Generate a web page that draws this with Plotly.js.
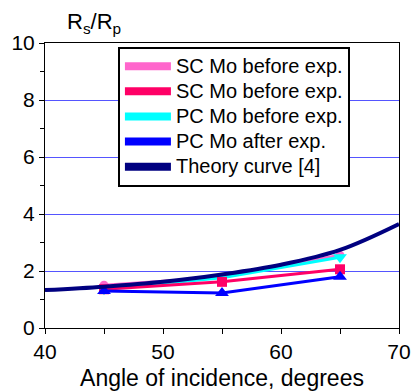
<!DOCTYPE html>
<html>
<head>
<meta charset="utf-8">
<script src="https://cdn.plot.ly/plotly-3.0.1.min.js"></script>
<style>html,body{margin:0;padding:0;background:#fff}#chart{width:413px;height:391px}
.legendtext{font-size:20px !important;}</style>
</head>
<body>
<div id="chart"></div>
<script>
// Data
var angles = [45, 55, 65];
var scMoBeforeA = [1.50, 1.78, 2.55];   // light pink (mostly hidden)
var scMoBeforeB = [1.36, 1.62, 2.06];   // crimson squares
var pcMoBefore  = [1.36, 1.76, 2.48];   // cyan down-triangles
var pcMoAfter   = [1.30, 1.23, 1.80];   // blue up-triangles
var theoryX = [40, 45, 50, 55, 60, 65, 70];
var theoryY = [1.33, 1.45, 1.62, 1.88, 2.22, 2.74, 3.65];
var legendNames = ["SC Mo before exp.", "SC Mo before exp.", "PC Mo before exp.", "PC Mo after exp.", "Theory curve [4]"];
var colors = ["#ff66cc", "#ff0066", "#00ffff", "#0000ff", "#000080"];

var font = "Arial, 'Liberation Sans', sans-serif";
var traces = [
  {x: angles, y: scMoBeforeA, mode: "lines+markers", line: {color: colors[0], width: 3},
   marker: {symbol: "circle", size: 9, color: colors[0]}, showlegend: false},
  {x: angles, y: pcMoBefore, mode: "lines+markers", line: {color: colors[2], width: 3},
   marker: {symbol: "triangle-down", size: 12, color: colors[2]}, showlegend: false},
  {x: angles, y: scMoBeforeB, mode: "lines+markers", line: {color: colors[1], width: 3},
   marker: {symbol: "square", size: 10, color: colors[1]}, showlegend: false},
  {x: angles, y: pcMoAfter, mode: "lines+markers", line: {color: colors[3], width: 3},
   marker: {symbol: "triangle-up", size: 12, color: colors[3]}, showlegend: false},
  {x: theoryX, y: theoryY, mode: "lines", line: {color: colors[4], width: 4, shape: "spline"}, showlegend: false}
];
// legend-only entries (thick bar swatches)
legendNames.forEach(function (n, i) {
  traces.push({x: [null], y: [null], mode: "lines", name: n, line: {color: colors[i], width: 8}, showlegend: true});
});

var layout = {
  width: 413, height: 391,
  margin: {l: 45, r: 14, t: 43, b: 63},
  paper_bgcolor: "#fff", plot_bgcolor: "#fff",
  font: {family: font, size: 21, color: "#000"},
  showlegend: true,
  legend: {x: 0.206, y: 0.987, xanchor: "left", yanchor: "top",
    bgcolor: "#fff", bordercolor: "#000", borderwidth: 2, itemwidth: 46,
    font: {family: font, size: 17, color: "#000"}, tracegroupgap: 0},
  xaxis: {range: [40, 70], dtick: 10, tick0: 40, showgrid: false, zeroline: false,
    showline: true, linecolor: "#000", linewidth: 1, mirror: true,
    ticks: "outside", ticklen: 5, tickcolor: "#000",
    minor: {dtick: 5, ticks: "outside", ticklen: 5, tickcolor: "#000", showgrid: false},
    tickfont: {size: 21},
    title: {text: "Angle of incidence, degrees", font: {size: 23}, standoff: 7}},
  yaxis: {range: [0, 10], dtick: 2, tick0: 0, showgrid: true, gridcolor: "#5555ff", gridwidth: 1,
    zeroline: false, showline: true, linecolor: "#000", linewidth: 1, mirror: true,
    ticks: "outside", ticklen: 5, tickcolor: "#000",
    minor: {dtick: 1, ticks: "outside", ticklen: 4, tickcolor: "#000", showgrid: false},
    tickfont: {size: 21}},
  annotations: [{text: "R<sub>s</sub>/R<sub>p</sub>", xref: "paper", yref: "paper",
    x: 0.138, y: 1.07, xanchor: "center", yanchor: "middle", showarrow: false,
    font: {family: font, size: 22, color: "#000"}}]
};
Plotly.newPlot("chart", traces, layout, {displayModeBar: false, staticPlot: true});
</script>
</body>
</html>
